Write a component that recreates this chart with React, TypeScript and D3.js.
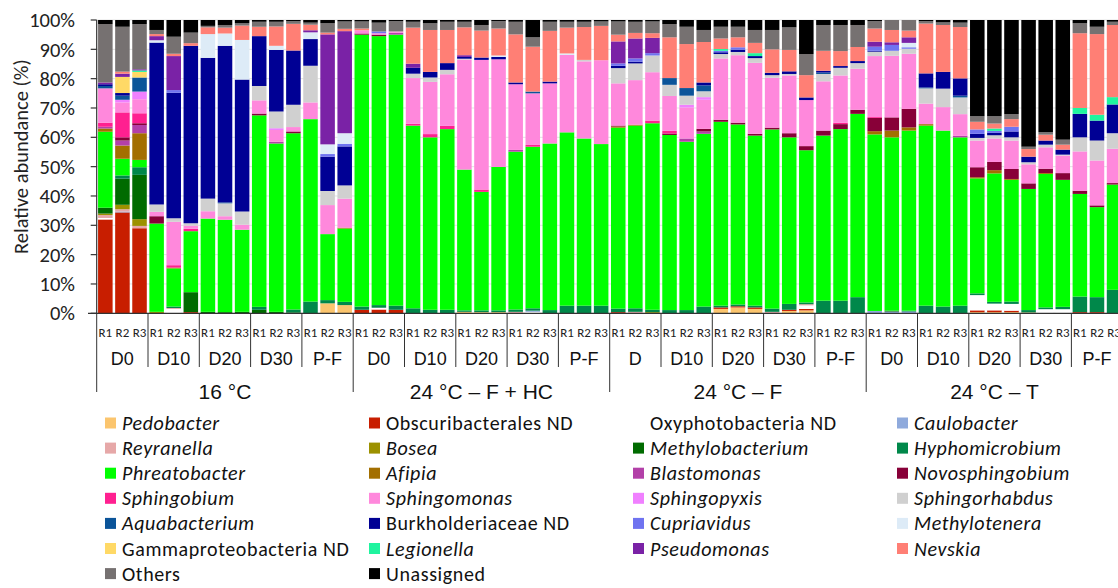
import React from 'react';
import * as d3 from 'd3';

// sample layout: 4 conditions x 5 timepoints x 3 replicates = 60 bars
const conditions = ['16 °C', '24 °C – F + HC', '24 °C – F', '24 °C – T'];
const timepoints = [
  ['D0', 'D10', 'D20', 'D30', 'P-F'],
  ['D0', 'D10', 'D20', 'D30', 'P-F'],
  ['D', 'D10', 'D20', 'D30', 'P-F'],
  ['D0', 'D10', 'D20', 'D30', 'P-F'],
];
const replicates = ['R1', 'R2', 'R3'];
const yTickValues = [0, 0.1, 0.2, 0.3, 0.4, 0.5, 0.6, 0.7, 0.8, 0.9, 1];

// legend / stacking order (bottom -> top)
const taxa = [
  'Pedobacter', 'Obscuribacterales ND', 'Oxyphotobacteria ND', 'Caulobacter',
  'Reyranella', 'Bosea', 'Methylobacterium', 'Hyphomicrobium',
  'Phreatobacter', 'Afipia', 'Blastomonas', 'Novosphingobium',
  'Sphingobium', 'Sphingomonas', 'Sphingopyxis', 'Sphingorhabdus',
  'Aquabacterium', 'Burkholderiaceae ND', 'Cupriavidus', 'Methylotenera',
  'Gammaproteobacteria ND', 'Legionella', 'Pseudomonas', 'Nevskia',
  'Others', 'Unassigned',
];
const notItalic = ['Obscuribacterales ND', 'Oxyphotobacteria ND', 'Burkholderiaceae ND',
  'Gammaproteobacteria ND', 'Others', 'Unassigned'];

const colors = [
  '#FBC56E', '#C81E00', '#FFFFFF', '#8FAADC',
  '#E6A8A8', '#9C9100', '#006B00', '#00884A',
  '#00FF00', '#A36F00', '#B340A8', '#880038',
  '#FF2090', '#FF88DC', '#F080FF', '#D0D0D0',
  '#0B5499', '#000094', '#6F73F0', '#DDEBF7',
  '#FFD966', '#1FF49F', '#7A22A6', '#FF7F75',
  '#767171', '#000000',
];

// relative abundance (%), one value per bar, rows = conditions
const pedobacter = [
  0, 0, 0, 0, 0, 0, 0, 0, 0, 0, 0, 0, 0, 3.4, 2.8,
  0, 0, 0, 0, 0, 0, 0.5, 0.4, 0.4, 0, 0, 0, 0, 0, 0,
  0, 0, 0, 0, 0, 0, 1.5, 2, 1.5, 0, 0.8, 1, 0, 0, 0,
  0, 0, 0, 0, 0, 0, 0.4, 0.4, 0.4, 0.3, 0, 0, 0, 0, 0,
];
const obscuribacterales = [
  32, 34.4, 29, 0, 0, 0.4, 0, 0, 0, 0, 0, 0, 0, 0, 0,
  1.2, 1.3, 1.2, 0, 0, 0, 0, 0, 0, 0, 0, 0, 0, 0, 0,
  0.4, 0, 0, 0, 0, 0, 0.5, 0.4, 0.5, 0, 0.4, 0.5, 0, 0, 0,
  0, 0, 0, 0, 0, 0, 0.6, 0.6, 0.5, 0, 0, 0, 0.4, 0.4, 0,
];
const oxyphotobacteria = [
  0.5, 0, 0, 0, 1.5, 0, 0, 0, 0, 0, 0, 0, 0, 0, 0,
  0, 0.6, 0, 0, 0, 0, 0, 0, 0, 0, 0.5, 0, 0, 0, 0,
  0, 0, 0, 0, 0, 0, 0, 0, 0, 0, 0, 1.2, 0, 0, 0,
  0, 0, 0, 0, 0, 0, 5.2, 2.3, 2.3, 0, 1.4, 1.4, 0, 0, 0,
];
const caulobacter = [
  0, 0.3, 0, 0, 0, 0, 0, 0, 0, 0, 0, 0, 0, 0, 0,
  0, 0, 0, 0, 0, 0, 0, 0, 0, 0, 0.4, 0, 0, 0, 0,
  0, 0, 0, 0, 0, 0, 0, 0, 0, 0, 0, 0, 0, 0, 0,
  0.8, 0.6, 0.6, 0, 0, 0, 0, 0, 0, 0, 0, 0, 0, 0, 0,
];
const reyranella = [
  1, 0.8, 0.8, 0, 0.3, 0, 0, 0, 0, 0, 0, 0, 0, 0, 0,
  0, 0, 0, 0, 0, 0, 0, 0, 0, 0.5, 0, 0, 0, 0, 0,
  0, 0.5, 0, 0, 0, 0, 0, 0, 0, 0.5, 0, 0.4, 0, 0, 0,
  0, 0, 0, 0, 0, 0, 0, 0, 0, 0, 0, 0, 0, 0, 0,
];
const bosea = [
  0.5, 1.5, 2.3, 0.5, 0, 0, 0, 0, 0, 0, 0, 0, 0, 0, 0,
  0, 0, 0, 0, 0, 0, 0, 0, 0, 0, 0, 0, 0, 0, 0,
  0, 0, 0.4, 0, 0, 0, 0, 0, 0, 0, 0, 0, 0, 0, 0,
  0, 0, 0, 0, 0, 0, 0, 0, 0, 0, 0, 0, 0, 0, 0,
];
const methylobacterium = [
  2, 8.9, 15.1, 0, 0, 6.8, 0.5, 0.4, 0.5, 1.2, 0.5, 0.3, 0, 0, 0,
  0, 0, 0, 0, 0, 0, 0, 0, 0, 0, 0, 0, 0, 0, 0,
  0, 0, 0, 0, 0, 0, 0, 0, 0, 0, 0, 0, 0, 0, 0,
  0, 0.3, 0, 0, 0, 0, 0, 0, 0, 0, 0, 0, 0, 0, 0,
];
const hyphomicrobium = [
  0, 1.1, 2.6, 0, 0.5, 0, 0, 0, 0, 1, 0, 1, 4, 1.1, 1.1,
  1.1, 0.9, 1.4, 1.7, 1.2, 1.2, 0.5, 0.6, 0.6, 0.8, 0.8, 1.1, 2.6, 2.6, 2.6,
  1.2, 1.2, 0.8, 1.1, 1.1, 2.3, 0.6, 0.6, 0.6, 1.1, 2, 0.6, 4.3, 4.3, 5.5,
  0, 0, 0.3, 2.6, 2.3, 2.6, 0.6, 0.6, 0.8, 0.8, 0.6, 0.8, 5.3, 5.1, 8,
];
const phreatobacter = [
  25.9, 5.7, 2.5, 30.1, 13, 20.8, 31.8, 31.5, 28, 65.3, 57.4, 60.1, 62.2, 22.5, 25,
  92.7, 91.7, 92.4, 62.3, 58.8, 61.6, 48, 40.4, 48.9, 53.8, 55.1, 56.8, 59.1, 57, 55.1,
  61.7, 62.3, 63.6, 59.7, 57.4, 58.9, 62.7, 61.4, 58, 61.1, 56.8, 51.9, 56.3, 58.5, 62.5,
  60.2, 59.1, 61.4, 61.4, 60, 57.4, 39.2, 43.8, 41.5, 41.3, 45.5, 43.3, 35, 30.7, 35.9,
];
const afipia = [
  1.1, 4.5, 9.1, 0, 0.3, 0, 0, 0, 0, 0, 0, 0, 0, 0, 0.3,
  0, 0, 0, 0, 0, 0, 0, 0, 0, 0, 0, 0, 0, 0, 0,
  0.4, 0.3, 0, 0, 0, 0, 0, 0, 0, 0, 0, 0, 0, 0, 0,
  1.1, 2.3, 1.1, 0.5, 0, 0, 0.4, 1.1, 0.3, 0, 0.3, 0, 0, 0, 0,
];
const blastomonas = [
  0.6, 1.7, 2.8, 0, 0, 0, 0, 0, 0, 0, 0.6, 0, 0, 0, 0,
  0, 0, 0.6, 0, 0, 0, 0, 0, 0, 0.6, 0, 0, 0, 0, 0,
  0, 0, 0, 0, 1.1, 0.8, 0, 0, 0, 0, 0, 0, 0, 0, 0,
  0, 0, 0, 0, 0, 0.5, 0, 0, 0, 0, 0, 0, 0, 0, 0,
];
const novosphingobium = [
  0, 1.1, 0.6, 2.5, 0, 0, 0, 0, 0, 0.6, 0, 0.6, 0, 0, 0,
  0.4, 0.5, 0, 0, 0, 0, 0, 0, 0, 0, 0, 0, 0, 0, 0,
  0.3, 0, 0, 0.5, 0, 0.9, 0.7, 0.6, 0.6, 0.6, 1.4, 1.4, 1.7, 1.7, 1.4,
  4.5, 4.5, 6.3, 0, 0, 0, 3.4, 2.8, 3.4, 1.9, 1.5, 2.3, 1.1, 0.6, 0.5,
];
const sphingobium = [
  1.4, 8.5, 3.4, 0, 0.8, 0.8, 0, 0, 0, 0, 0, 0, 0, 0, 0,
  0, 0, 0, 0.6, 1.1, 1.1, 0, 0.8, 0, 0, 0.6, 0, 0, 0, 0,
  0, 0, 0.9, 0.9, 0, 0, 0, 0, 0, 0, 0, 0, 0, 0.5, 0,
  0.3, 0, 0, 0, 0, 0, 0, 0, 0, 0, 0, 0, 0, 0, 0,
];
const sphingomonas = [
  11.7, 3.4, 4.8, 1.5, 14.8, 1.1, 2.5, 1.2, 1.7, 4.5, 4, 1.5, 5.7, 9.9, 9.9,
  1.1, 0.5, 0.5, 15.6, 17.8, 17.6, 37.5, 44.2, 36.7, 22.4, 17.6, 20.5, 26.4, 26.3, 28.6,
  14.4, 15.2, 16.5, 11.9, 10.6, 9.9, 20.9, 23, 24.2, 17, 19.7, 15.7, 16.8, 16.1, 14,
  20.8, 21, 18.8, 7, 8, 7.4, 9.1, 8, 9.7, 6.5, 7.3, 6, 13.4, 15.3, 11.7,
];
const sphingopyxis = [
  0, 0.9, 2.6, 0, 0, 0, 0, 0, 0, 0, 0.6, 0, 0, 0, 0,
  0, 0, 0, 0, 0, 0, 0, 0, 0, 0, 0, 0, 0, 0, 0,
  0, 0, 0, 0, 0.9, 0.9, 0, 0, 0, 0, 0, 0, 0, 0, 0,
  0, 0, 0, 0, 0, 0, 0, 0, 0, 0, 0, 0, 0, 0, 0,
];
const sphingorhabdus = [
  0, 0, 0, 2.5, 1.2, 0.8, 4.3, 4.4, 4.5, 4.9, 5.7, 7.6, 12.5, 4.8, 4.5,
  0, 0, 0, 1.5, 1.5, 1.5, 0.3, 0, 0, 0, 0, 0, 0, 0.5, 0,
  5.2, 5.7, 5.7, 3.8, 3.1, 2, 1.5, 1.1, 1.6, 0.9, 0.5, 0, 2.5, 2.6, 1.9,
  1.5, 1.7, 1.7, 5.2, 6.3, 5.7, 0.9, 1.1, 1.1, 0.7, 0.9, 0.3, 4.8, 6.8, 5.3,
];
const aquabacterium = [
  0.8, 1.4, 4.8, 0, 0, 0, 0, 0.3, 0, 0, 0, 0, 0, 0, 0,
  0, 0, 0, 0, 0, 0, 0, 0, 0, 0, 0.6, 0, 0, 0, 0,
  0, 0, 0, 2.3, 2.6, 2, 0, 0, 0, 0, 0, 0, 0.5, 0, 0,
  0, 0, 0, 0.3, 0, 0.6, 0, 0, 0, 0, 0, 0, 0, 0, 0,
];
const burkholderiaceae = [
  0.6, 0.9, 0, 55.2, 42.8, 60.5, 48, 53.4, 45, 17, 21, 18.5, 9.1, 11.7, 13.3,
  0, 0, 0, 2, 1.9, 2.3, 0.6, 0.8, 0.8, 0.6, 0, 0.6, 0, 0, 0,
  0.8, 0.6, 0, 0, 0, 1, 0.6, 0.8, 0.7, 0.8, 0.9, 0.9, 0.6, 0.6, 0.7,
  0.3, 0, 0, 4.8, 5.7, 5.9, 1.4, 0.8, 2, 1.9, 1.4, 1.7, 8, 6.8, 9.8,
];
const cupriavidus = [
  0, 0, 0, 0, 0.9, 0, 0, 0, 0, 0, 0, 0, 0, 0.9, 0.9,
  0, 0.6, 0, 0, 0, 0, 0, 0, 0, 0, 0, 0, 0, 0, 0,
  0.8, 1.1, 0.8, 0, 0, 0, 0.5, 0.8, 0, 0, 0, 0, 0, 0, 0,
  1.4, 2, 0.5, 0, 0, 0, 1.5, 0.7, 1.6, 0, 0, 0, 0, 0, 0,
];
const methylotenera = [
  0, 0, 0, 0.8, 0, 0, 8.1, 4.2, 13.5, 0, 1.4, 0, 2.3, 3.3, 3.6,
  0, 0, 0, 0, 0, 0, 0, 0, 0.5, 0, 0, 0, 0.5, 0, 0,
  0, 0, 0, 0, 0, 0, 0, 0, 0, 0, 0, 0, 0, 0, 0,
  0, 0, 1.5, 0, 0, 0, 0, 0, 0, 0, 0, 0, 0, 0, 0,
];
const gammaproteobacteria = [
  0, 5.5, 1.9, 0, 0, 0, 0, 0, 0, 0, 0, 0, 0, 0, 0,
  0, 0, 0, 0, 0, 0, 0, 0, 0, 0, 0, 0, 0, 0, 0,
  0, 0, 0, 0, 0, 0, 0, 0, 0, 0, 0, 0, 0, 0, 0,
  0, 0, 0, 0, 0, 0, 0, 0, 0, 0, 0, 0, 0, 0, 0,
];
const legionella = [
  0, 0, 0.5, 0, 0, 0, 0, 0, 0, 0, 0, 0, 0, 0, 0,
  0, 0, 0, 0, 0, 0, 0, 0, 0, 0, 0, 0, 0, 0, 0,
  0, 0, 0, 0, 0, 0, 0.6, 0, 1, 0, 0, 0, 0, 0, 0,
  0, 0, 0, 0, 0, 0, 0, 0.8, 0, 0, 0, 0, 2, 2, 2.5,
];
const pseudomonas = [
  0.6, 1.1, 0.4, 1.4, 11.6, 0, 0, 0, 0, 0, 0, 0, 0.7, 37.5, 34.8,
  0, 0, 0, 1.4, 0, 0, 0.6, 0, 0, 0, 0, 0, 0, 0, 0,
  7.5, 6.8, 5.2, 0, 0, 0, 0, 0, 0, 0, 0, 0, 0, 0, 0,
  1.7, 0.9, 1.9, 0, 0, 0, 0, 0, 0, 0, 0, 0, 0, 0, 0,
];
const nevskia = [
  0, 0.7, 0, 0.7, 0.8, 0.9, 2.3, 2, 4.9, 3.2, 6.6, 9.1, 1.9, 0.6, 0.8,
  0.6, 0, 0, 12.3, 14.3, 11.3, 9.5, 9.2, 9.2, 16.4, 15.3, 17.3, 8.8, 11.2, 11.7,
  2.3, 1.9, 1.6, 13.9, 15, 13.8, 3.6, 3.4, 3.5, 8, 7.3, 7.6, 6.8, 5.1, 4.8,
  4.5, 4.2, 2.3, 17, 16, 17.5, 2.6, 1.7, 2.6, 2.6, 2, 1.7, 25.5, 27.5, 24.6,
];
const others = [
  19.9, 15.3, 15.4, 1.4, 5.8, 3.6, 0.5, 0.9, 0.8, 1.7, 1.6, 0.9, 0.7, 3.2, 2.5,
  2.4, 3, 3.5, 2, 2.3, 2.8, 1.9, 1.9, 2.5, 4.3, 3.2, 3.1, 2, 1.8, 1.5,
  4.5, 3.8, 4, 4.5, 5.9, 4.1, 4, 3.6, 4.4, 6.6, 7.7, 7.2, 8.8, 8.9, 7.5,
  2.5, 3.4, 3.6, 0.8, 0.9, 1.5, 1.9, 2.5, 1.7, 0.8, 0.9, 1.7, 3.4, 2.5, 1.1,
];
const unassigned = [
  1.4, 2.3, 1.4, 3.4, 5.7, 4.3, 2, 1.7, 1.1, 0.6, 0.6, 0.4, 0.9, 1.1, 0.5,
  0.5, 0.9, 0.4, 0.6, 1.1, 0.6, 0.6, 1.7, 0.4, 0.6, 5.9, 0.6, 0.6, 0.6, 0.5,
  0.5, 0.6, 0.5, 1.4, 2.3, 3.4, 2.3, 2.3, 3.4, 3.4, 2.5, 11.6, 1.7, 1.7, 1.7,
  0.4, 0, 0, 0.4, 0.8, 0.9, 32.8, 32.8, 32.1, 43.2, 38.2, 40.8, 1.1, 2.3, 0.6,
];

const seriesValues = [
  pedobacter, obscuribacterales, oxyphotobacteria, caulobacter,
  reyranella, bosea, methylobacterium, hyphomicrobium,
  phreatobacter, afipia, blastomonas, novosphingobium,
  sphingobium, sphingomonas, sphingopyxis, sphingorhabdus,
  aquabacterium, burkholderiaceae, cupriavidus, methylotenera,
  gammaproteobacteria, legionella, pseudomonas, nevskia,
  others, unassigned,
];

const W = 1118;
const H = 588;
const plot = { left: 96.7, right: 1122.7, top: 20, bottom: 313.3 };
const labelFont = 'Carlito, Lato, sans-serif';
const axisFont = '"Liberation Sans", Arial, sans-serif';

export default function App() {
  const nBars = conditions.length * 5 * 3;

  // one row per bar, keyed by taxon name
  const rows = d3.range(nBars).map((i) => {
    const row: Record<string, number> = { idx: i };
    taxa.forEach((t, k) => { row[t] = seriesValues[k][i]; });
    return row;
  });

  const stacked = d3.stack<Record<string, number>>()
    .keys(taxa)
    .offset(d3.stackOffsetExpand)(rows);

  const x = d3.scaleBand<number>()
    .domain(d3.range(nBars))
    .range([plot.left, plot.right])
    .paddingInner(0.15)
    .paddingOuter(0.08);

  const y = d3.scaleLinear().domain([0, 1]).range([plot.bottom, plot.top]);
  const color = d3.scaleOrdinal<string, string>().domain(taxa).range(colors);
  const pct = d3.format('.0%');

  const groupW = (plot.right - plot.left) / 20;
  const sepX = (k: number) => plot.left + k * groupW;

  return (
    <svg width={W} height={H} style={{ position: 'absolute', left: 0, top: 0, background: '#fff' }}>
      {/* gridlines */}
      {yTickValues.map((t) => (
        <line key={'g' + t} x1={plot.left} x2={W} y1={y(t)} y2={y(t)} stroke="#e3e3e3" strokeWidth={1} />
      ))}

      {/* stacked bars */}
      {stacked.map((layer) => (
        <g key={layer.key} fill={color(layer.key)}>
          {layer.map((d, i) => {
            const h = y(d[0]) - y(d[1]);
            if (h <= 0) return null;
            return <rect key={i} x={x(i)} y={y(d[1])} width={x.bandwidth()} height={h} />;
          })}
        </g>
      ))}

      {/* y axis */}
      <line x1={plot.left} x2={plot.left} y1={plot.top} y2={plot.bottom} stroke="#333" strokeWidth={1.2} />
      {yTickValues.map((t) => (
        <g key={'t' + t}>
          <line x1={plot.left - 6} x2={plot.left} y1={y(t)} y2={y(t)} stroke="#333" strokeWidth={1.2} />
          <text x={75} y={y(t)} dy="0.35em" textAnchor="end" fontSize={20.5} fontFamily={labelFont} fill="#222">
            {pct(t)}
          </text>
        </g>
      ))}
      <text
        transform={`translate(21,${(plot.top + plot.bottom) / 2 - 10}) rotate(-90)`}
        textAnchor="middle" dy="0.35em" fontSize={20.5} fontFamily={labelFont} fill="#222"
      >
        Relative abundance (%)
      </text>

      {/* x axis */}
      <line x1={88} x2={W} y1={plot.bottom} y2={plot.bottom} stroke="#333" strokeWidth={1.2} />
      {d3.range(21).map((k) => (
        <line key={'s' + k} x1={sepX(k)} x2={sepX(k)} y1={plot.bottom} y2={k % 5 === 0 ? 392 : 367}
          stroke="#333" strokeWidth={1} />
      ))}
      {d3.range(nBars).map((i) => (
        <text key={'r' + i} x={(x(i) ?? 0) + x.bandwidth() / 2} y={332} dy="0.35em" textAnchor="middle"
          fontSize={13} fontFamily={labelFont} fill="#222">
          {replicates[i % 3]}
        </text>
      ))}
      {conditions.map((c, ci) => (
        <g key={c}>
          {timepoints[ci].map((tp, ti) => (
            <text key={tp + ti} x={sepX(ci * 5 + ti) + groupW / 2} y={359} dy="0.35em" textAnchor="middle"
              fontSize={18} fontFamily={axisFont} fill="#111">
              {tp}
            </text>
          ))}
          <text x={sepX(ci * 5) + groupW * 2.5} y={392} dy="0.35em" textAnchor="middle"
            fontSize={21} fontFamily={axisFont} fill="#111">
            {c}
          </text>
        </g>
      ))}

      {/* legend */}
      {taxa.map((t, k) => {
        const col = k % 4;
        const row = Math.floor(k / 4);
        const sx = [105, 369, 633, 897][col];
        const cy = 423 + row * 25.1;
        return (
          <g key={'l' + t}>
            <rect x={sx} y={cy - 5.5} width={11} height={11} fill={color(t)} />
            <text x={sx + 17} y={cy} dy="0.35em" fontSize={20} letterSpacing={0.6} fontFamily={labelFont}
              fontStyle={notItalic.includes(t) ? 'normal' : 'italic'} fill="#111">
              {t}
            </text>
          </g>
        );
      })}
    </svg>
  );
}
